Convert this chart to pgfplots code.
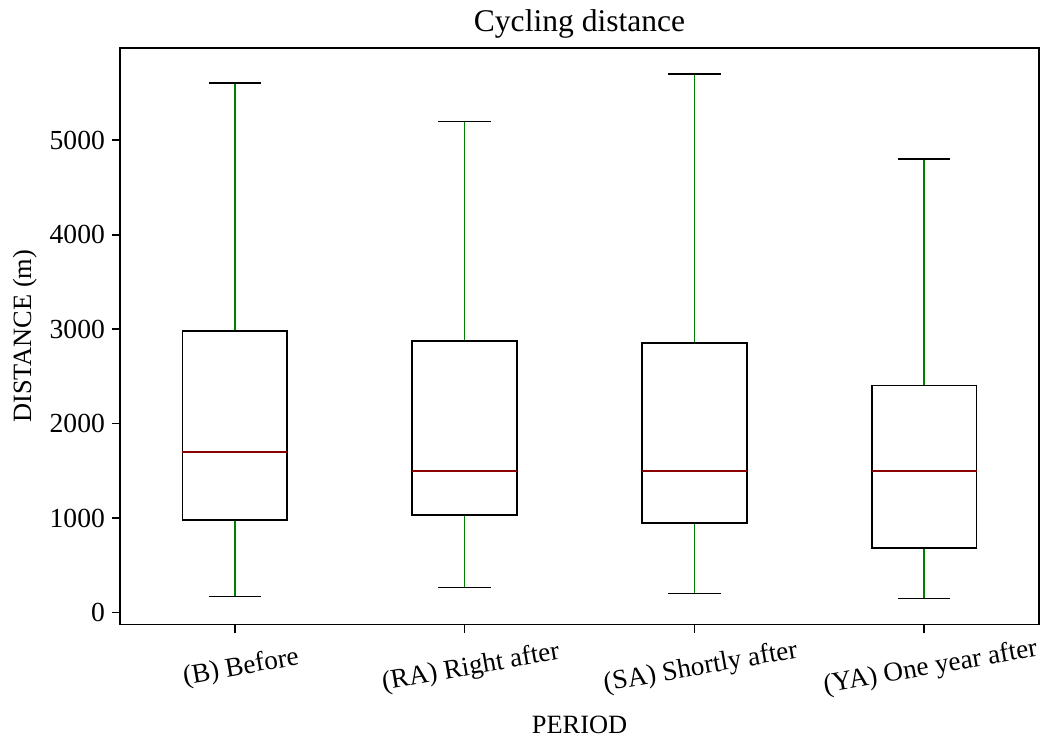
\documentclass[border=0pt]{standalone}
\usepackage{fontspec}
\setmainfont{Liberation Serif}
\usepackage{pgfplots}
\pgfplotsset{compat=1.18}
\usepgfplotslibrary{statistics}
\definecolor{wgreen}{HTML}{008000}
\definecolor{mred}{HTML}{8B0000}
\begin{document}
\begin{tikzpicture}
\begin{axis}[
  at={(0,0)}, anchor=south west,
  width=460pt, height=288.5pt, scale only axis,
  xmin=0.5, xmax=4.5, ymin=-127, ymax=5977,
  xtick={1,2,3,4},
  xticklabels={(B) Before,(RA) Right after,(SA) Shortly after,(YA) One year after},
  ytick={0,1000,2000,3000,4000,5000},
  scaled y ticks=false,
  /pgf/number format/1000 sep={},
  /pgf/number format/assume math mode=true,
  tick align=outside, tick pos=left,
  major tick length=4pt,
  axis line style={line width=0.8pt},
  every tick/.style={black, line width=0.8pt},
  tick label style={font=\fontsize{13.6}{15}\selectfont},
  yticklabel style={font=\fontsize{13.8}{15}\selectfont},
  xticklabel style={rotate=10, anchor=center, yshift=-18pt},
  label style={font=\fontsize{13.2}{15}\selectfont},
  title style={font=\fontsize{15.8}{18}\selectfont, at={(axis description cs:0.5,1.021)}, anchor=center},
  title={Cycling distance},
  xlabel={PERIOD},
  xlabel style={at={(axis description cs:0.5,-0.1733)}, anchor=center},
  ylabel={DISTANCE (m)},
  ylabel style={at={(axis description cs:-0.1035,0.5)}, anchor=center},
  boxplot/draw direction=y,
  boxplot/box extend=0.456,
  boxplot/whisker extend=0.228,
  boxplot/draw/box/.code={%
    \draw[black, line width=0.8pt]
      (boxplot box cs:\pgfplotsboxplotvalue{lower quartile},0)
      rectangle
      (boxplot box cs:\pgfplotsboxplotvalue{upper quartile},1);
  },
  boxplot/draw/median/.code={%
    \draw[mred, line width=0.8pt]
      (boxplot box cs:\pgfplotsboxplotvalue{median},0)
      --
      (boxplot box cs:\pgfplotsboxplotvalue{median},1);
  },
  boxplot/draw/lower whisker/.code={%
    \draw[wgreen, line width=0.8pt]
      (boxplot box cs:\pgfplotsboxplotvalue{lower quartile},0.5)
      --
      (boxplot box cs:\pgfplotsboxplotvalue{lower whisker},0.5);
    \draw[black, line width=0.8pt]
      (boxplot whisker cs:\pgfplotsboxplotvalue{lower whisker},0)
      --
      (boxplot whisker cs:\pgfplotsboxplotvalue{lower whisker},1);
  },
  boxplot/draw/upper whisker/.code={%
    \draw[wgreen, line width=0.8pt]
      (boxplot box cs:\pgfplotsboxplotvalue{upper quartile},0.5)
      --
      (boxplot box cs:\pgfplotsboxplotvalue{upper whisker},0.5);
    \draw[black, line width=0.8pt]
      (boxplot whisker cs:\pgfplotsboxplotvalue{upper whisker},0)
      --
      (boxplot whisker cs:\pgfplotsboxplotvalue{upper whisker},1);
  },
]
\addplot[boxplot prepared={draw position=1, lower whisker=170, lower quartile=977, median=1700, upper quartile=2983, upper whisker=5605}] coordinates {};
\addplot[boxplot prepared={draw position=2, lower whisker=265, lower quartile=1030, median=1500, upper quartile=2877, upper whisker=5200}] coordinates {};
\addplot[boxplot prepared={draw position=3, lower whisker=200, lower quartile=945, median=1500, upper quartile=2856, upper whisker=5700}] coordinates {};
\addplot[boxplot prepared={draw position=4, lower whisker=150, lower quartile=680, median=1500, upper quartile=2405, upper whisker=4800}] coordinates {};
\end{axis}
\pgfresetboundingbox
\useasboundingbox (-60pt,-57.5pt) rectangle (460.4pt,312.5pt);
\end{tikzpicture}
\end{document}
